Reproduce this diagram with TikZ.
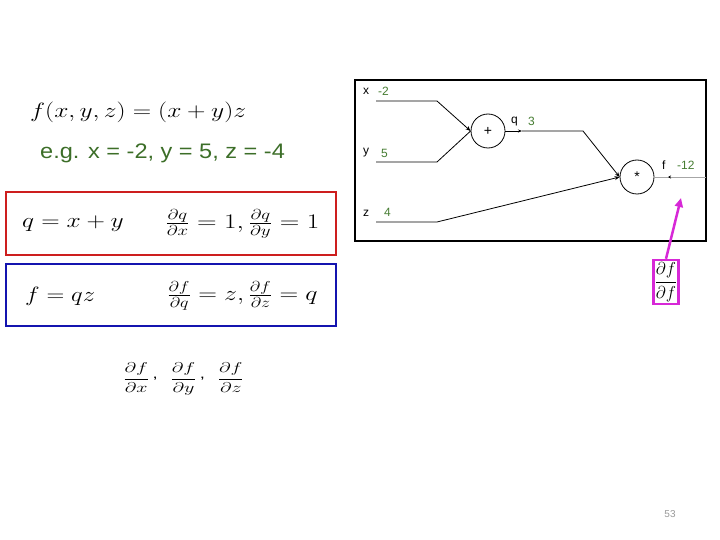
\documentclass[tikz,border=0pt]{standalone}
\usepackage{fontspec}
\setmainfont{Liberation Sans}
\usepackage{amsmath}
\usepackage{graphicx}
\usetikzlibrary{arrows.meta,calc}
\definecolor{valgreen}{RGB}{70,125,50}
\definecolor{egreen}{RGB}{60,110,40}
\definecolor{boxred}{RGB}{205,30,30}
\definecolor{boxblue}{RGB}{20,20,175}
\definecolor{mag}{RGB}{215,40,215}
\newcommand{\wide}[2]{\scalebox{#1}[1]{#2}}
\newcommand{\rcomma}{\raisebox{5pt}{,}}
\begin{document}
\begin{tikzpicture}[x=1pt,y=-1pt,
  lbl/.style={font=\fontsize{12}{14}\selectfont, inner sep=0pt},
  val/.style={font=\fontsize{12}{14}\selectfont, text=valgreen, inner sep=0pt},
  gate/.style={circle, draw, line width=0.8pt, minimum size=34pt, inner sep=0pt, font=\fontsize{14}{16}\selectfont},
  wire/.style={line width=0.8pt},
  bigmath/.style={inner sep=0pt, font=\fontsize{20}{24}\selectfont},
  fracmath/.style={inner sep=0pt, font=\fontsize{21}{25}\selectfont},
  eqbox/.style={draw, line width=2.5pt}]
\useasboundingbox (0,0) rectangle (720,540);
\fill[white] (0,0) rectangle (720,540);

% left side formulas
\node[bigmath, anchor=west] (func) at (30,112) {\wide{1.23}{$f(x,y,z)=(x+y)z$}};
\node[anchor=west, inner sep=0pt, text=egreen, font=\fontsize{21}{25}\selectfont] (eg) at (40,153) {\wide{1.12}{e.g. x = -2, y = 5, z = -4}};

\draw[eqbox, boxred] (6,192) rectangle (336,255);
\node[bigmath, anchor=west] (qdef) at (22,224) {\wide{1.23}{$q=x+y$}};
\node[fracmath, anchor=west] (qder) at (165,224) {\wide{1.31}{$\tfrac{\partial q}{\partial x}=1, \tfrac{\partial q}{\partial y}=1$}};

\draw[eqbox, boxblue] (6,264) rectangle (336,326);
\node[bigmath, anchor=west] (fdef) at (25,296) {\wide{1.19}{$f=qz$}};
\node[fracmath, anchor=west] (fder) at (167,296) {\wide{1.25}{$\tfrac{\partial f}{\partial q}=z, \tfrac{\partial f}{\partial z}=q$}};

\node[inner sep=0pt, anchor=west, font=\fontsize{16}{19}\selectfont] (grads) at (123,379) {\scalebox{1.16}[0.82]{$\dfrac{\partial f}{\partial x}\,\rcomma\hspace{11pt}\dfrac{\partial f}{\partial y}\,\rcomma\hspace{11pt}\dfrac{\partial f}{\partial z}$}};

% graph panel
\draw[line width=1.2pt] (355,80) rectangle (706,241);

\node[gate] (plus) at (488,131) {+};
\node[gate] (times) at (637,177) {*};

\node[lbl, anchor=west] (xl) at (363,91) {x};
\node[val, anchor=west] (xv) at (378,91) {-2};
\coordinate (xa) at (376,101);
\coordinate (xb) at (437,101);
\draw[wire, -{Stealth[length=5pt,width=4pt]}] (xa) -- (xb) -- (plus.west);

\node[lbl, anchor=west] (yl) at (363,153) {y};
\node[val, anchor=west] (yv) at (381,153) {5};
\coordinate (ya) at (376,162);
\coordinate (yb) at (437,162);
\draw[wire] (ya) -- (yb) -- (plus.west);

\node[lbl, anchor=west] (zl) at (363,213) {z};
\node[val, anchor=west] (zv) at (384,212) {4};
\coordinate (za) at (376,222);
\coordinate (zb) at (437,222);
\draw[wire, -{Stealth[length=5pt,width=4pt]}] (za) -- (zb) -- (times.west);

\node[lbl, anchor=west] (ql) at (511,122) {q};
\node[val, anchor=west] (qv) at (528,121) {3};
\coordinate (qm) at (522,131);
\coordinate (qb) at (583,131);
\draw[wire, -{Stealth[length=4pt,width=3pt]}] (plus.east) -- (qm);
\draw[wire, -{Stealth[length=5pt,width=4pt]}] (qm) -- (qb) -- (times.west);

\node[lbl, anchor=west] (fl) at (662,165) {f};
\node[val, anchor=west] (fv) at (677,165) {-12};
\coordinate (fm) at (668,177);
\coordinate (fe) at (706,177);
\draw[line width=0.6pt, gray!70] (times.east) -- (fe);
\draw[line width=0.6pt, -{Stealth[length=3pt,width=3pt]}] ($(fm)+(1,0)$) -- (fm);

% magenta gradient
\node[draw=mag, line width=2.5pt, inner xsep=1.5pt, inner ysep=2.5pt, font=\fontsize{16}{19}\selectfont] (ff) at (666,282) {$\dfrac{\partial f}{\partial f}$};
\coordinate (ftip) at (681,198);
\draw[mag, line width=2.5pt, -{Triangle[length=9pt,width=8pt]}] (ff.north) -- (ftip);

\node[inner sep=0pt, text=gray!80, font=\fontsize{10}{12}\selectfont] (pg) at (670,514) {53};
\end{tikzpicture}
\end{document}
